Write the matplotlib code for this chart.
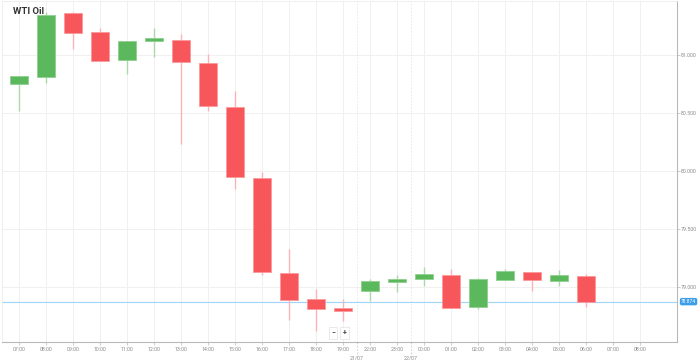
import numpy as np
import matplotlib
matplotlib.use("Agg")
import matplotlib.pyplot as plt
from matplotlib.transforms import blended_transform_factory

plt.rcParams["font.family"] = ["Roboto", "DejaVu Sans"]

# hourly slots on the category axis (20:00 and 21:00 are a market break)
HOURS = ["07:00", "08:00", "09:00", "10:00", "11:00", "12:00", "13:00", "14:00",
         "15:00", "16:00", "17:00", "18:00", "19:00", "22:00", "23:00", "00:00",
         "01:00", "02:00", "03:00", "04:00", "05:00", "06:00", "07:00", "08:00"]
OPEN = [80.753, 80.810, 81.359, 81.196, 80.959, 81.123, 81.129, 80.928, 80.554, 79.942,
        79.121, 78.897, 78.819, 78.963, 79.046, 79.069, 79.106, 78.828, 79.060, 79.129,
        79.049, 79.092]
HIGH = [80.816, 81.373, 81.368, 81.230, 81.118, 81.230, 81.178, 81.009, 80.690, 79.989,
        79.328, 78.983, 78.897, 79.066, 79.106, 79.170, 79.153, 79.075, 79.158, 79.129,
        79.147, 79.109]
LOW = [80.520, 80.756, 81.052, 80.948, 80.836, 80.983, 80.230, 80.520, 79.842, 79.101,
       78.716, 78.621, 78.704, 78.879, 78.960, 79.011, 78.822, 78.813, 79.060, 78.968,
       79.011, 78.828]
CLOSE = [80.816, 81.347, 81.187, 80.948, 81.118, 81.149, 80.940, 80.558, 79.946, 79.127,
         78.885, 78.808, 78.790, 79.052, 79.066, 79.110, 78.822, 79.066, 79.135, 79.058,
         79.101, 78.871]
PRICE_TICKS = [79.0, 79.5, 80.0, 80.5, 81.0]
LAST = 78.874
DATES = [("21/07", 12.5), ("22/07", 14.5)]

UP, DOWN = "#5cb85c", "#f7565a"
UP_WICK, DOWN_WICK = "#a8dba8", "#fbb4b6"
GRID, AXIS, TXT = "#f0f0f0", "#b8b8b8", "#8a8a8a"

fig = plt.figure(figsize=(6.99, 3.6), dpi=100)
ax = fig.add_axes([2 / 699, 18 / 360, 675 / 699, 341 / 360])

x = np.arange(len(OPEN))
o, h, l, c = map(np.array, (OPEN, HIGH, LOW, CLOSE))
up = c >= o
wick_col = np.where(up, UP_WICK, DOWN_WICK)
body_col = np.where(up, UP, DOWN)
edge_col = np.where(up, "#8fd18f", "#fa9a9c")

ax.vlines(x, l, h, colors=wick_col, lw=1.0, zorder=3)
ax.bar(x, np.abs(c - o), bottom=np.minimum(o, c), width=0.65, color=body_col,
       edgecolor=edge_col, linewidth=0.6, zorder=4)

ax.set_xlim(-0.63, 24.37)
ax.set_ylim(78.526, 81.466)

ax.set_xticks(np.arange(len(HOURS)))
ax.set_xticklabels(HOURS)
ax.yaxis.tick_right()
ax.set_yticks(PRICE_TICKS)
ax.set_yticklabels([f"{v:.3f}" for v in PRICE_TICKS])
ax.tick_params(axis="x", colors=AXIS, labelcolor=TXT, labelsize=3.8, length=2, width=0.5, pad=1.5)
ax.tick_params(axis="y", colors=AXIS, labelcolor=TXT, labelsize=3.8, length=2, width=0.5, pad=1)

ax.grid(True, color=GRID, lw=0.7)
ax.set_axisbelow(True)
for s in ("top", "left"):
    ax.spines[s].set_color("#ececec")
    ax.spines[s].set_linewidth(0.6)
for s in ("bottom", "right"):
    ax.spines[s].set_color(AXIS)
    ax.spines[s].set_linewidth(0.8)

# day separators
tr = blended_transform_factory(ax.transData, ax.transAxes)
for lab, xd in DATES:
    ax.axvline(xd, color="#e6e6e6", lw=0.6, ls=(0, (2, 2)), zorder=1)
    ax.plot([xd, xd], [0, -0.04], transform=tr, color="#c8c8c8", lw=0.6,
            ls=(0, (2, 2)), clip_on=False)
    ax.text(xd, -0.0395, lab, transform=tr, ha="center", va="top", fontsize=3.8, color=TXT)

# last price line + badge
ax.axhline(LAST, color="#9fd4f5", lw=0.8, zorder=2)
ax.text(1.006, LAST, f"{LAST:.3f}", transform=blended_transform_factory(ax.transAxes, ax.transData),
        ha="left", va="center", fontsize=3.5, color="white",
        bbox=dict(boxstyle="round,pad=0.25,rounding_size=0.4", fc="#3d9ee8", ec="none"))

ax.text(11 / 675, 1 - 11 / 341, "WTI Oil", transform=ax.transAxes, ha="left", va="center",
        fontsize=6.8, fontweight="bold", color="#333333")

# zoom buttons
for sym, xp in (("−", 333), ("+", 344.5)):
    fig.text(xp / 699, 1 - 333 / 360, sym, ha="center", va="center", fontsize=5,
             color="#444444", fontweight="bold",
             bbox=dict(boxstyle="square,pad=0.35", fc="white", ec="#e2e2e2", lw=0.5))

fig.savefig("out.png", dpi=100, facecolor="white")
